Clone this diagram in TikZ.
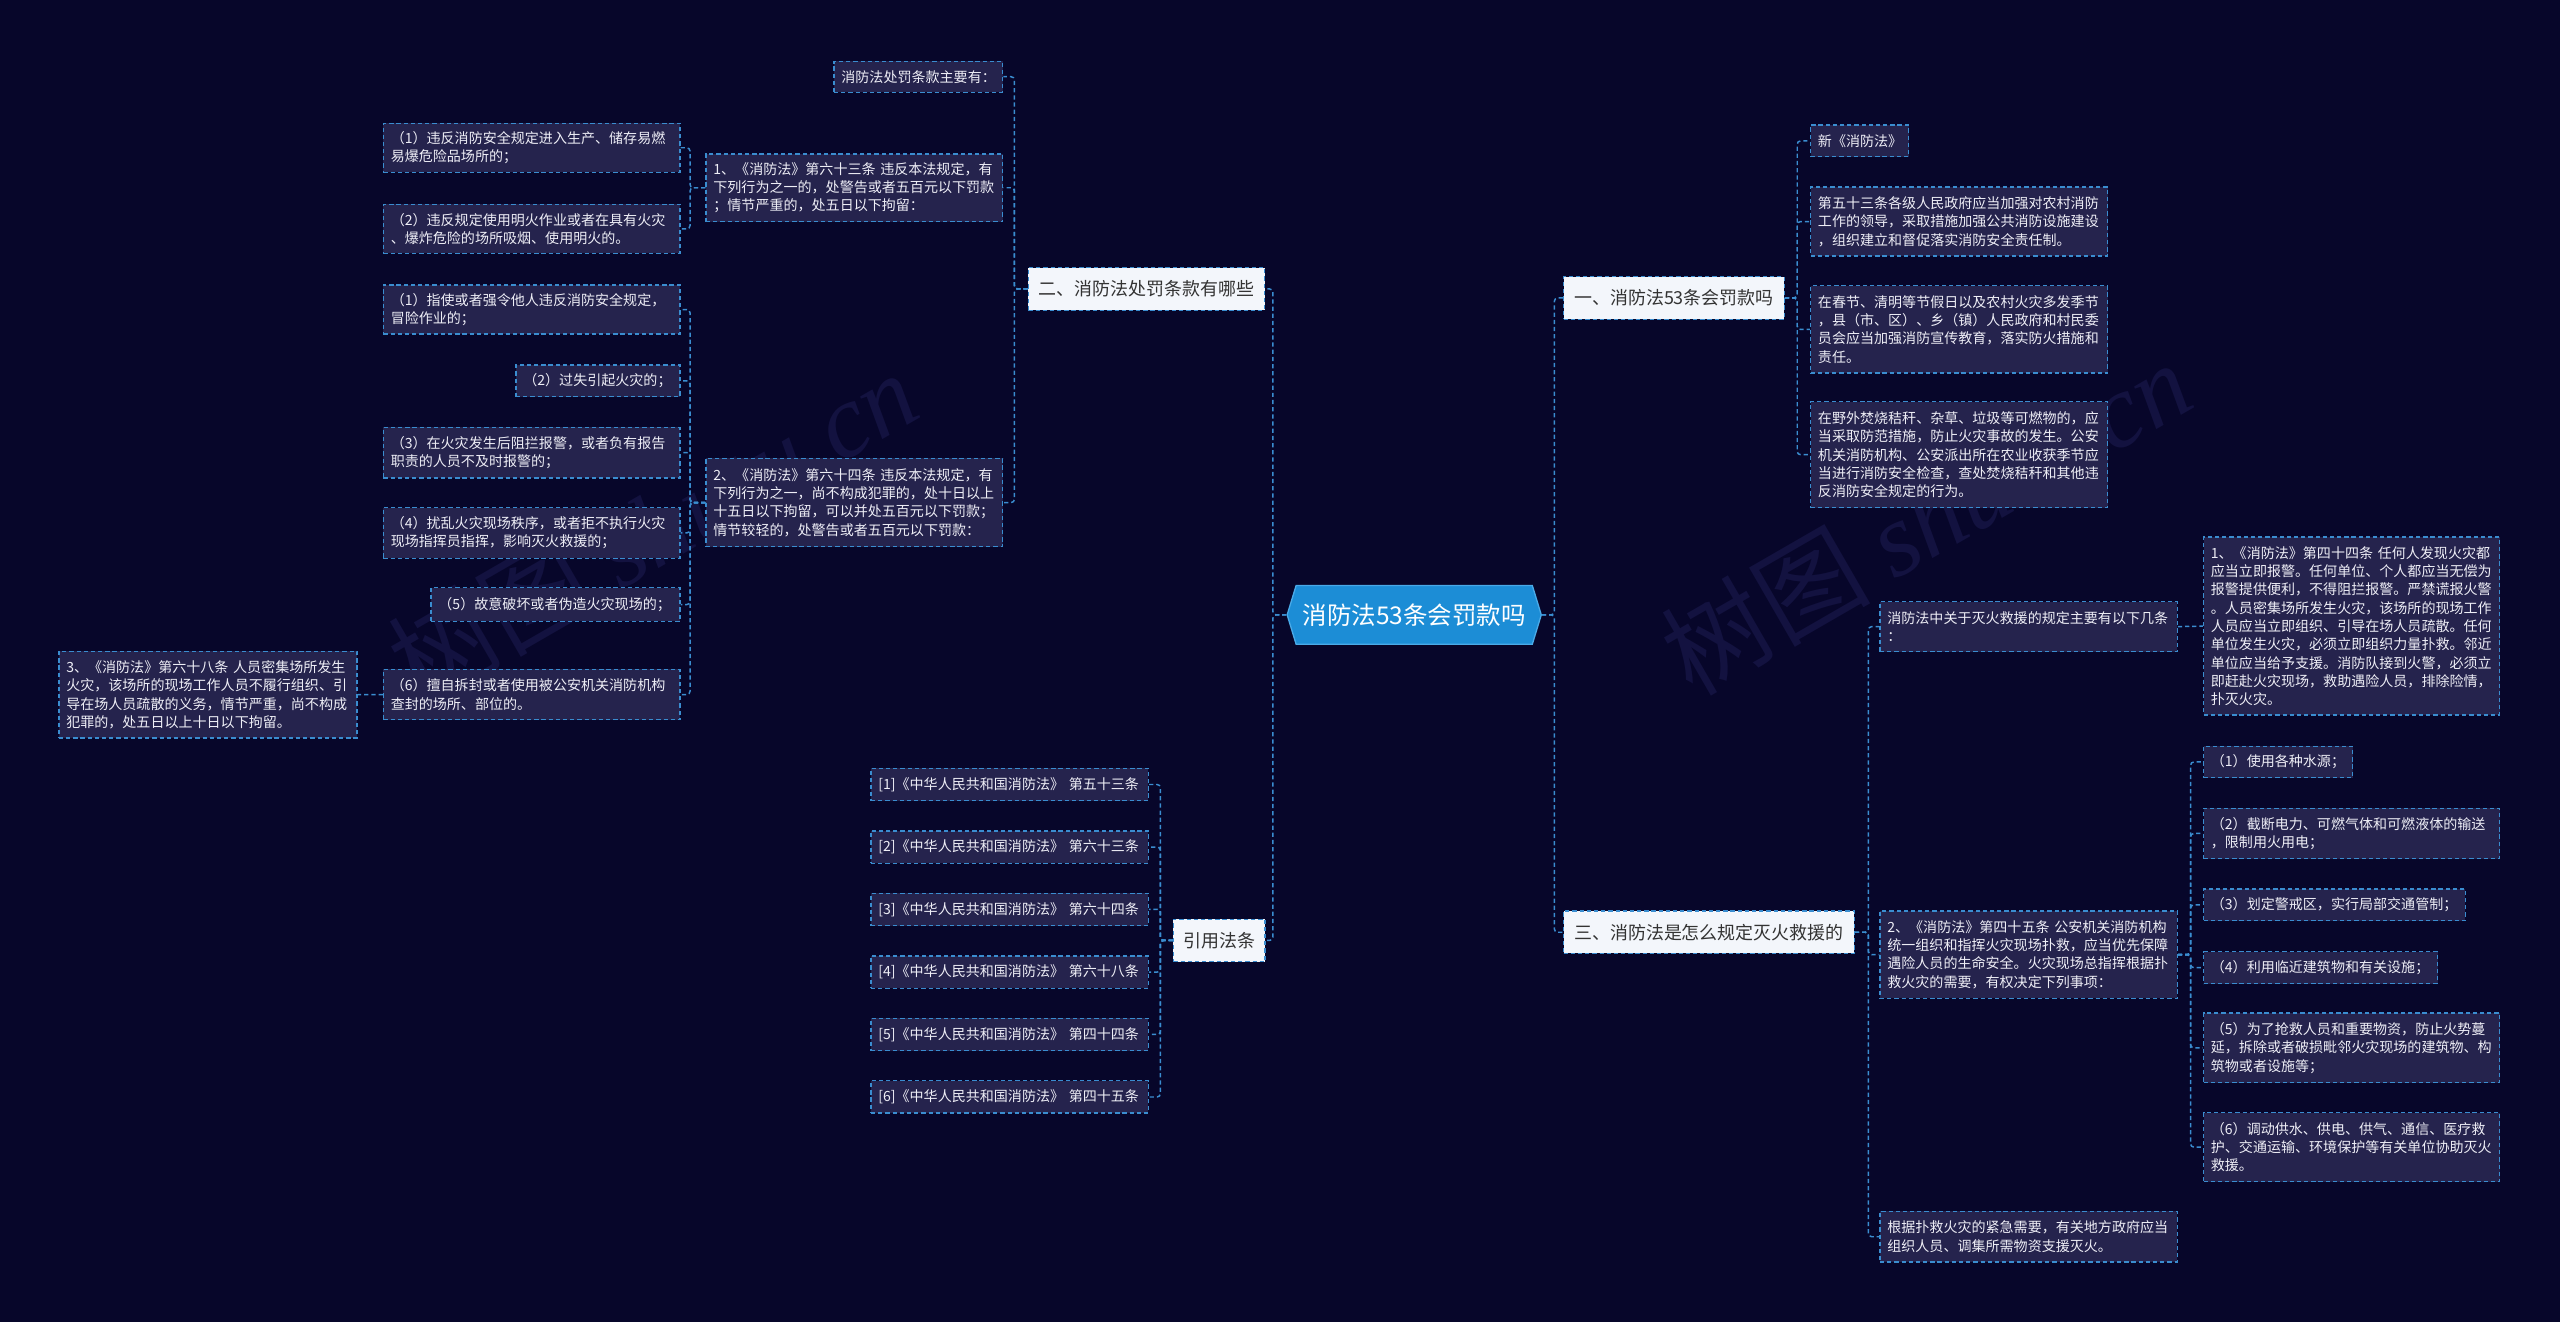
\documentclass[tikz,border=0pt]{standalone}
\usepackage{fontspec}
\setmainfont{Noto Sans CJK SC}
\newfontfamily\wmserif{Liberation Serif}
\usetikzlibrary{shapes.symbols}
\definecolor{bg}{HTML}{07062A}
\definecolor{boxfill}{HTML}{25234D}
\definecolor{lineblue}{HTML}{3A8DD0}
\definecolor{lvfill}{HTML}{F3F6FB}
\definecolor{lvtext}{HTML}{333333}
\definecolor{ctrfill}{HTML}{1C8DD6}
\definecolor{ctrline}{HTML}{4AAAE8}
\definecolor{wm}{HTML}{131240}
\definecolor{boxtext}{HTML}{EEEEF6}
\begin{document}
\begin{tikzpicture}[x=1pt,y=-1pt,
  conn/.style={draw=lineblue, line width=0.9pt, dash pattern=on 2.6pt off 1.8pt, rounded corners=2pt},
  sbox/.style n args={3}{draw=lineblue, line width=0.8pt, dash pattern=on 2.6pt off 1.8pt,
     fill=boxfill, text=boxtext, font=\fontsize{8.6}{11.2}\selectfont, align=left,
     inner xsep=4.5pt, inner ysep=1pt, minimum width=#1pt, text width=#2pt, minimum height=#3pt},
  lvbox/.style n args={2}{draw=lineblue, line width=0.8pt, dash pattern=on 2.6pt off 1.8pt,
     fill=lvfill, text=lvtext, font=\fontsize{11}{13}\selectfont, inner xsep=5pt, inner ysep=1pt,
     minimum width=#1pt, minimum height=#2pt},
  ctr/.style={signal, signal to=west and east, signal pointer angle=146, fill=ctrfill, draw=ctrline,
     line width=0.8pt, text=white, font=\fontsize{15}{17}\selectfont, inner xsep=4pt, inner ysep=1pt,
     minimum height=36pt, minimum width=151pt},
  wmark/.style={text=wm, font=\fontsize{64}{66}\selectfont, rotate=30}
]
\useasboundingbox (0,0) rectangle (1568,810);
\fill[bg] (0,0) rectangle (1568,810);

% watermarks
\node[wmark] (wm1) at (399.5,322.5) {树图 {\wmserif\itshape shutu.cn}};
\node[wmark] (wm2) at (1179.5,316.5) {树图 {\wmserif\itshape shutu.cn}};

% center
\node[ctr] (c) at (866.2,376.6) {消防法53条会罚款吗};

% level 1
\node[lvbox={144.7}{26}] (n2) at (702.2,177) {二、消防法处罚条款有哪些};
\node[lvbox={56.1}{26}] (ny) at (746.8,576) {引用法条};
\node[lvbox={135}{26}] (n1) at (1025.3,182.5) {一、消防法53条会罚款吗};
\node[lvbox={178}{26}] (n3) at (1046.7,571) {三、消防法是怎么规定灭火救援的};

% left subtree of n2
\node[sbox={103.3}{94.3}{19}] (a) at (562.5,47) {消防法处罚条款主要有：};
\node[sbox={181.7}{172.7}{41.5}] (b) at (523.3,115) {1、《消防法》第六十三条~违反本法规定，有\\下列行为之一的，处警告或者五百元以下罚款\\；情节严重的，处五日以下拘留：};
\node[sbox={181.7}{172.7}{54}] (cc) at (523.3,307.8) {2、《消防法》第六十四条~违反本法规定，有\\下列行为之一，尚不构成犯罪的，处十日以上\\十五日以下拘留，可以并处五百元以下罚款；\\情节较轻的，处警告或者五百元以下罚款：};

\node[sbox={181.7}{172.7}{30}] (d1) at (325.7,90.5) {（1）违反消防安全规定进入生产、储存易燃\\易爆危险品场所的；};
\node[sbox={181.7}{172.7}{30}] (d2) at (325.7,140.2) {（2）违反规定使用明火作业或者在具有火灾\\、爆炸危险的场所吸烟、使用明火的。};

\node[sbox={181.7}{172.7}{30}] (e1) at (325.7,189.6) {（1）指使或者强令他人违反消防安全规定，\\冒险作业的；};
\node[sbox={100.5}{91.5}{19.5}] (e2) at (366.3,233.3) {（2）过失引起火灾的；};
\node[sbox={181.7}{172.7}{31}] (e3) at (325.7,277.2) {（3）在火灾发生后阻拦报警，或者负有报告\\职责的人员不及时报警的；};
\node[sbox={181.7}{172.7}{31}] (e4) at (325.7,326.4) {（4）扰乱火灾现场秩序，或者拒不执行火灾\\现场指挥员指挥，影响灭火救援的；};
\node[sbox={152.5}{143.5}{20.5}] (e5) at (340.3,370.3) {（5）故意破坏或者伪造火灾现场的；};
\node[sbox={181.7}{172.7}{31}] (e6) at (325.7,425.4) {（6）擅自拆封或者使用被公安机关消防机构\\查封的场所、部位的。};
\node[sbox={182.6}{173.6}{53}] (f) at (127.4,425.5) {3、《消防法》第六十八条~人员密集场所发生\\火灾，该场所的现场工作人员不履行组织、引\\导在场人员疏散的义务，情节严重，尚不构成\\犯罪的，处五日以上十日以下拘留。};

% references
\node[sbox={169.8}{160.8}{19.8}] (r1) at (618.4,480.5) {[1]《中华人民共和国消防法》~第五十三条};
\node[sbox={169.8}{160.8}{19.8}] (r2) at (618.4,518.8) {[2]《中华人民共和国消防法》~第六十三条};
\node[sbox={169.8}{160.8}{19.8}] (r3) at (618.4,557) {[3]《中华人民共和国消防法》~第六十四条};
\node[sbox={169.8}{160.8}{19.8}] (r4) at (618.4,595.4) {[4]《中华人民共和国消防法》~第六十八条};
\node[sbox={169.8}{160.8}{19.8}] (r5) at (618.4,633.6) {[5]《中华人民共和国消防法》~第四十四条};
\node[sbox={169.8}{160.8}{19.8}] (r6) at (618.4,671.9) {[6]《中华人民共和国消防法》~第四十五条};

% right subtree of n1
\node[sbox={60}{51}{19.4}] (g1) at (1139,86.3) {新《消防法》};
\node[sbox={182}{173}{42.3}] (g2) at (1200,135.7) {第五十三条各级人民政府应当加强对农村消防\\工作的领导，采取措施加强公共消防设施建设\\，组织建立和督促落实消防安全责任制。};
\node[sbox={182}{173}{53.5}] (g3) at (1200,201.8) {在春节、清明等节假日以及农村火灾多发季节\\，县（市、区）、乡（镇）人民政府和村民委\\员会应当加强消防宣传教育，落实防火措施和\\责任。};
\node[sbox={182}{173}{65}] (g4) at (1200,278.5) {在野外焚烧秸秆、杂草、垃圾等可燃物的，应\\当采取防范措施，防止火灾事故的发生。公安\\机关消防机构、公安派出所在农业收获季节应\\当进行消防安全检查，查处焚烧秸秆和其他违\\反消防安全规定的行为。};

% right subtree of n3
\node[sbox={182}{173}{30.5}] (h1) at (1242.5,383.8) {消防法中关于灭火救援的规定主要有以下几条\\：};
\node[sbox={182}{173}{53.5}] (h2) at (1242.5,584.7) {2、《消防法》第四十五条~公安机关消防机构\\统一组织和指挥火灾现场扑救，应当优先保障\\遇险人员的生命安全。火灾现场总指挥根据扑\\救火灾的需要，有权决定下列事项：};
\node[sbox={182}{173}{31}] (h3) at (1242.5,757.5) {根据扑救火灾的紧急需要，有关地方政府应当\\组织人员、调集所需物资支援灭火。};
\node[sbox={181.3}{172.3}{109}] (i1) at (1440.3,383.5) {1、《消防法》第四十四条~任何人发现火灾都\\应当立即报警。任何单位、个人都应当无偿为\\报警提供便利，不得阻拦报警。严禁谎报火警\\。人员密集场所发生火灾，该场所的现场工作\\人员应当立即组织、引导在场人员疏散。任何\\单位发生火灾，必须立即组织力量扑救。邻近\\单位应当给予支援。消防队接到火警，必须立\\即赶赴火灾现场，救助遇险人员，排除险情，\\扑灭火灾。};
\node[sbox={91.3}{82.3}{19.3}] (j1) at (1395.3,466.7) {（1）使用各种水源；};
\node[sbox={181.3}{172.3}{31}] (j2) at (1440.3,510.5) {（2）截断电力、可燃气体和可燃液体的输送\\，限制用火用电；};
\node[sbox={160.3}{151.3}{19.5}] (j3) at (1429.8,554.2) {（3）划定警戒区，实行局部交通管制；};
\node[sbox={143.3}{134.3}{19.5}] (j4) at (1421.3,592.7) {（4）利用临近建筑物和有关设施；};
\node[sbox={181.3}{172.3}{42.5}] (j5) at (1440.3,641.8) {（5）为了抢救人员和重要物资，防止火势蔓\\延，拆除或者破损毗邻火灾现场的建筑物、构\\筑物或者设施等；};
\node[sbox={181.3}{172.3}{42.3}] (j6) at (1440.3,702.6) {（6）调动供水、供电、供气、通信、医疗救\\护、交通运输、环境保护等有关单位协助灭火\\救援。};

% connectors: center
\foreach \t in {n2,ny} \draw[conn] (c.west) -- ++(-8.3,0) |- (\t.east);
\foreach \t in {n1,n3} \draw[conn] (c.east) -- ++(7.6,0) |- (\t.west);
% n2 children
\foreach \t in {a,b,cc} \draw[conn] (n2.west) -- ++(-8.1,0) |- (\t.east);
\foreach \t in {d1,d2} \draw[conn] (b.west) -- ++(-9.4,0) |- (\t.east);
\foreach \t in {e1,e2,e3,e4,e5,e6} \draw[conn] (cc.west) -- ++(-9.4,0) |- (\t.east);
\draw[conn] (e6.west) -- (f.east);
% references
\foreach \t in {r1,r2,r3,r4,r5,r6} \draw[conn] (ny.west) -- ++(-7.6,0) |- (\t.east);
% n1 children
\foreach \t in {g1,g2,g3,g4} \draw[conn] (n1.east) -- ++(7.6,0) |- (\t.west);
% n3 children
\foreach \t in {h1,h2,h3} \draw[conn] (n3.east) -- ++(8.3,0) |- (\t.west);
\draw[conn] (h1.east) -- (i1.west);
\foreach \t in {j1,j2,j3,j4,j5,j6} \draw[conn] (h2.east) -- ++(7.8,0) |- (\t.west);
\end{tikzpicture}
\end{document}
